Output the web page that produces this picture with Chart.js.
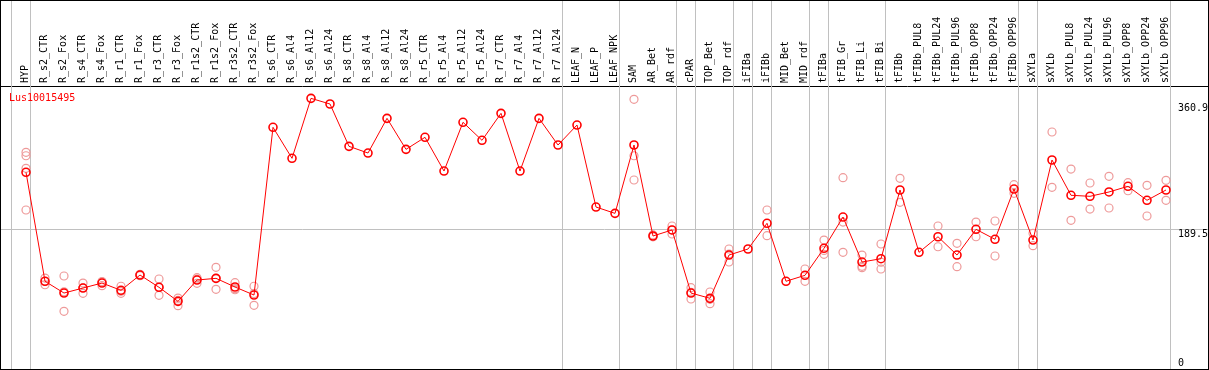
<!DOCTYPE html>
<html>
<head>
<meta charset="utf-8">
<script src="https://cdn.jsdelivr.net/npm/chart.js"></script>
<style>
  html, body { margin: 0; padding: 0; background: #fff; }
</style>
</head>
<body>
<canvas id="grafica" width="1209" height="370"></canvas>
<script>
// categorias (muestras)
const categorias = [
  "HYP", "R_s2_CTR", "R_s2_Fox", "R_s4_CTR", "R_s4_Fox", "R_r1_CTR", "R_r1_Fox",
  "R_r3_CTR", "R_r3_Fox", "R_r1s2_CTR", "R_r1s2_Fox", "R_r3s2_CTR", "R_r3s2_Fox",
  "R_s6_CTR", "R_s6_Al4", "R_s6_Al12", "R_s6_Al24", "R_s8_CTR", "R_s8_Al4", "R_s8_Al12",
  "R_s8_Al24", "R_r5_CTR", "R_r5_Al4", "R_r5_Al12", "R_r5_Al24", "R_r7_CTR", "R_r7_Al4",
  "R_r7_Al12", "R_r7_Al24", "LEAF_N", "LEAF_P", "LEAF_NPK", "SAM", "AR_Bet", "AR_rdf",
  "cPAR", "TOP_Bet", "TOP_rdf", "iFIBa", "iFIBb", "MID_Bet", "MID_rdf", "tFIBa",
  "tFIB_Gr", "tFIB_Li", "tFIB_Bi", "tFIBb", "tFIBb_PUL8", "tFIBb_PUL24", "tFIBb_PUL96",
  "tFIBb_OPP8", "tFIBb_OPP24", "tFIBb_OPP96", "sXYLa", "sXYLb", "sXYLb_PUL8",
  "sXYLb_PUL24", "sXYLb_PUL96", "sXYLb_OPP8", "sXYLb_OPP24", "sXYLb_OPP96"
];

// media de expresion por muestra
const medias = [
  266.3, 118.0, 102.0, 108.8, 115.6, 105.7, 126.5, 109.8, 90.7, 119.7, 122.0, 110.2, 99.3,
  327.5, 285.3, 366.9, 359.2, 301.6, 292.5, 339.7, 297.5, 313.9, 268.0, 334.3, 309.8,
  346.5, 268.0, 339.7, 303.4, 330.6, 219.0, 210.4, 303.4, 179.6, 187.8, 102.0, 94.8,
  153.7, 161.9, 196.9, 118.0, 126.1, 162.9, 205.4, 144.2, 148.7, 242.2, 157.4, 178.6,
  153.7, 188.7, 175.1, 243.5, 174.1, 283.0, 235.0, 233.6, 239.5, 247.2, 228.2, 242.2
];

// replicas individuales (vacio = sin replicas)
const replicas = [
  [293.5, 288.8, 271.7, 215.0], [122.4, 118.0, 113.3], [125.2, 103.7, 77.1],
  [115.6, 109.2, 101.6], [117.0, 117.6, 112.0], [111.2, 104.3, 101.6], [127.5, 126.5, 125.5],
  [121.1, 109.8, 98.9], [95.2, 92.0, 84.8], [122.9, 121.0, 115.2], [137.0, 122.0, 107.1],
  [116.1, 108.0, 106.5], [111.2, 101.4, 85.3],
  [], [], [], [], [], [], [], [], [], [], [], [], [], [], [], [], [], [], [],
  [365.6, 288.8, 255.8], [181.0, 178.5], [193.2, 187.8, 182.3], [109.3, 103.0, 93.9],
  [103.4, 93.5, 87.5], [161.9, 155.0, 144.2], [], [215.0, 180.0], [], [134.7, 118.0],
  [174.1, 160.0, 154.7], [258.9, 198.6, 157.4], [153.7, 138.4, 136.5], [168.7, 144.0, 134.7],
  [258.1, 225.4], [], [193.2, 165.0], [169.7, 137.8], [198.6, 178.6], [200.0, 152.4],
  [249.4, 237.7], [183.3, 166.4], [321.1, 245.9], [270.7, 200.9], [251.7, 216.3],
  [260.8, 217.7], [252.1, 241.2], [248.6, 206.8], [255.4, 228.2]
];

// indice del ultimo elemento de cada grupo (-1 = borde izquierdo)
const finGrupo = [-1, 0, 28, 31, 34, 35, 37, 38, 39, 41, 42, 45, 52, 53, 60];

// marcas del eje y
const marcasY = [360.9, 189.5, 0];

const titulo = "Lus10015495";

const puntosMedia = medias.map((v, i) => ({ x: i, y: v }));
const puntosReplica = [];
replicas.forEach((lista, i) => lista.forEach(v => puntosReplica.push({ x: i, y: v })));

const fuente = "10px 'DejaVu Sans Mono', monospace";

const decoracion = {
  id: "decoracion",
  beforeDatasetsDraw(chart) {
    const { ctx, scales: { x, y } } = chart;
    ctx.save();
    ctx.strokeStyle = "#c0c0c0";
    ctx.lineWidth = 1;
    // separadores de grupo
    finGrupo.forEach(i => {
      const px = Math.round(x.getPixelForValue(i + 0.21)) + 0.5;
      ctx.beginPath();
      ctx.moveTo(px, 0);
      ctx.lineTo(px, chart.height);
      ctx.stroke();
    });
    // linea media
    const py = Math.round(y.getPixelForValue(marcasY[1])) + 0.5;
    ctx.beginPath();
    ctx.moveTo(0, py);
    ctx.lineTo(chart.width, py);
    ctx.stroke();
    ctx.restore();
  },
  afterDraw(chart) {
    const { ctx, scales: { x, y }, chartArea } = chart;
    ctx.save();
    ctx.font = fuente;
    ctx.fillStyle = "#000";
    ctx.textAlign = "left";
    const lx = x.getPixelForValue(categorias.length - 1) + 12;
    marcasY.forEach(v => {
      const py = y.getPixelForValue(v);
      if (v === 0) {
        ctx.textBaseline = "bottom";
        ctx.fillText(String(v), lx, py);
      } else {
        ctx.textBaseline = "top";
        ctx.fillText(v.toFixed(1), lx, py + 1);
      }
    });
    // titulo del gen
    ctx.fillStyle = "#ff0000";
    ctx.textBaseline = "alphabetic";
    ctx.fillText(titulo, 9, chartArea.top + 15);
    // marco
    ctx.strokeStyle = "#000";
    ctx.lineWidth = 1;
    ctx.strokeRect(0.5, 0.5, chart.width - 1, chart.height - 1);
    ctx.restore();
  }
};

const ctx = document.getElementById("grafica").getContext("2d");

new Chart(ctx, {
  type: "line",
  data: {
    datasets: [
      {
        label: "media",
        data: puntosMedia,
        borderColor: "#ff0000",
        borderWidth: 1,
        pointRadius: 4,
        pointBorderWidth: 1.6,
        pointBorderColor: "#ff0000",
        pointBackgroundColor: "rgba(0,0,0,0)",
        tension: 0,
        order: 0
      },
      {
        label: "replicas",
        data: puntosReplica,
        showLine: false,
        pointRadius: 4,
        pointBorderWidth: 1.2,
        pointBorderColor: "#ee9a9a",
        pointBackgroundColor: "rgba(0,0,0,0)",
        order: 1
      }
    ]
  },
  options: {
    responsive: false,
    animation: false,
    devicePixelRatio: 1,
    layout: { autoPadding: false, padding: { top: 0, left: 0, right: 0, bottom: 2 } },
    scales: {
      x: {
        type: "linear",
        position: "top",
        min: -26 / 19,
        max: 60 + 43 / 19,
        afterBuildTicks: (s) => { s.ticks = categorias.map((_, i) => ({ value: i })); },
        afterFit: (s) => { s.height = 86; s.paddingLeft = 0; s.paddingRight = 0; },
        grid: { display: false, drawTicks: false },
        border: { display: true, color: "#000", width: 1 },
        ticks: {
          autoSkip: false,
          minRotation: 90,
          maxRotation: 90,
          padding: 3,
          labelOffset: 11,
          color: "#000",
          font: { family: "'DejaVu Sans Mono', monospace", size: 10 },
          callback: (v) => categorias[v]
        }
      },
      y: {
        display: false,
        min: 0,
        max: 383.7
      }
    },
    plugins: {
      legend: { display: false },
      tooltip: { enabled: false }
    }
  },
  plugins: [decoracion]
});
</script>
</body>
</html>
